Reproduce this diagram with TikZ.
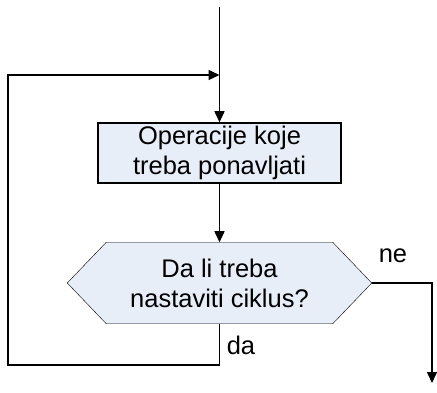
\documentclass[tikz,border=0pt]{standalone}
\usepackage{fontspec}
\setmainfont{Liberation Sans}
\usetikzlibrary{arrows.meta,calc,backgrounds}
\definecolor{boxfill}{RGB}{232,238,248}
\begin{document}
\begin{tikzpicture}[x=1pt,y=-1pt, line width=1.5pt, font=\fontsize{25.5}{30}\selectfont,
  arr/.style={-{Triangle[length=11pt,width=10pt]}},
  procbox/.style={draw, fill=boxfill, minimum width=243pt, minimum height=60pt, align=center, inner sep=0pt},
  decnode/.style={minimum width=303pt, minimum height=80pt, align=center, inner sep=0pt},
  lbl/.style={inner sep=0pt}]
\useasboundingbox (0,0) rectangle (437,393);
\coordinate (start) at (219.5,7);
\coordinate (j) at (219.5,75);
\coordinate (lt) at (8,75);
\coordinate (lb) at (8,365);
\coordinate (rc) at (432,283);
\coordinate (out) at (432,383);
\node[procbox] (p) at (219.5,153) {Operacije koje\\treba ponavljati};
\node[decnode] (d) at (219.5,283) {Da li treba\\nastaviti ciklus?};
\begin{scope}[on background layer]
\draw[fill=boxfill] (d.west) -- ($(d.north west)+(39,0)$) -- ($(d.north east)+(-39,0)$) -- (d.east) -- ($(d.south east)+(-39,0)$) -- ($(d.south west)+(39,0)$) -- cycle;
\end{scope}
\draw[arr] (start) -- (p.north);
\draw[arr] (p.south) -- (d.north);
\draw[arr] (d.south) |- (lb) -- (lt) -- (j);
\draw[arr] (d.east) -- (rc) -- (out);
\node[lbl] (ne) at (393,256) {ne};
\node[lbl] (da) at (241,345) {da};
\end{tikzpicture}
\end{document}
